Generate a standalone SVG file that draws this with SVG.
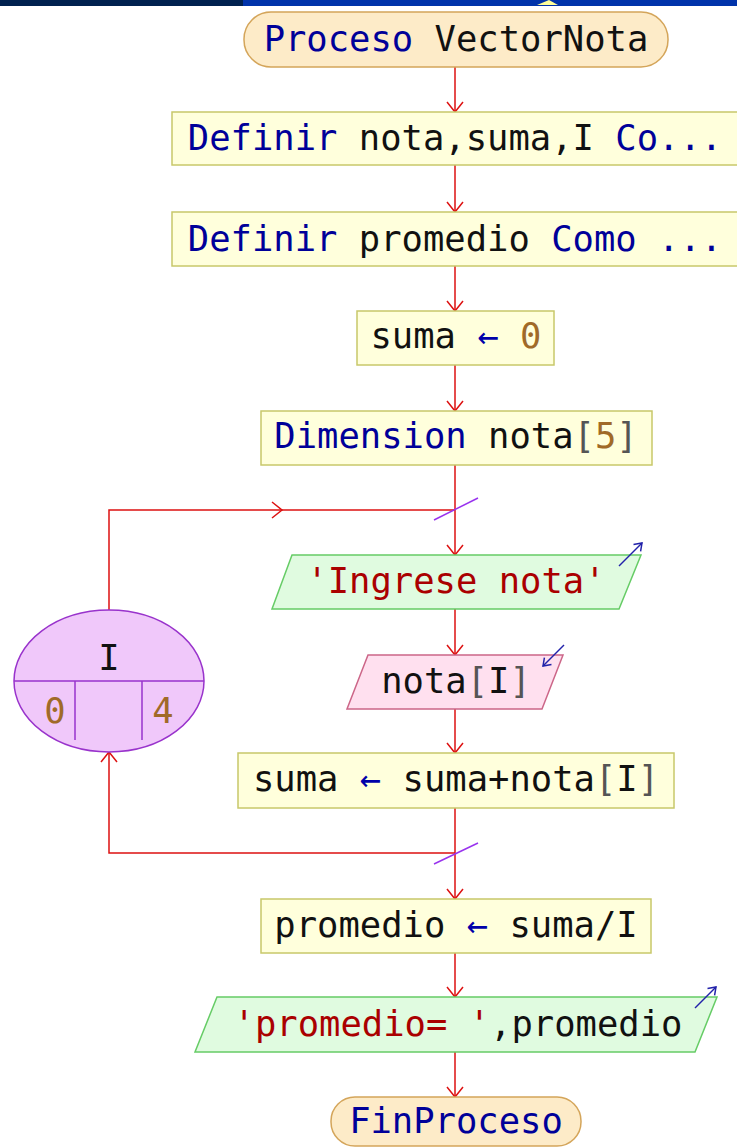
<svg xmlns="http://www.w3.org/2000/svg" width="737" height="1148" viewBox="0 0 737 1148">
<style>
text{font-family:"DejaVu Sans Mono","Liberation Mono",monospace;font-size:35.5px;text-anchor:middle}
.kw{fill:#000099}.id{fill:#111}.num{fill:#a06a28}.str{fill:#aa0000}.br{fill:#555}.op{fill:#0000aa}
.term{fill:#fdebc8;stroke:#d4a55a;stroke-width:1.5}
.proc{fill:#ffffdc;stroke:#c8c86a;stroke-width:1.5}
.out{fill:#e0fbe0;stroke:#66cc66;stroke-width:1.5}
.in{fill:#ffe0ef;stroke:#cc6688;stroke-width:1.5}
.loop{fill:#f0c8fa;stroke:#9933cc;stroke-width:1.5}
.flow{fill:none;stroke:#dd1111;stroke-width:1.5}
.slash{stroke:#9933ee;stroke-width:1.5}
.io{fill:none;stroke:#2222aa;stroke-width:1.5}
</style>
<defs>
<marker id="ah" markerUnits="userSpaceOnUse" markerWidth="24" markerHeight="24" refX="0" refY="0" viewBox="-12 -12 24 24" orient="auto" overflow="visible">
<path d="M-10,-8 L0,0 L-10,8" fill="none" stroke="#dd1111" stroke-width="1.5"/>
</marker>
<marker id="bh" markerUnits="userSpaceOnUse" markerWidth="16" markerHeight="16" refX="0" refY="0" viewBox="-8 -8 16 16" orient="auto" overflow="visible">
<path d="M-7,-5 L0,0 L-7,5" fill="none" stroke="#2222aa" stroke-width="1.5"/>
</marker>
</defs>
<rect width="737" height="1148" fill="#fff"/>
<g id="topbar">
<rect x="0" y="0" width="243" height="6" fill="#00214f"/>
<rect x="243" y="0" width="494" height="6" fill="#0033aa"/>
<polygon points="549,0 537,5 558,5" fill="#ffff99"/>
</g>
<g id="connectors">
<path class="flow" d="M455,67 V112" marker-end="url(#ah)"/>
<path class="flow" d="M455,165 V212" marker-end="url(#ah)"/>
<path class="flow" d="M455,266 V311" marker-end="url(#ah)"/>
<path class="flow" d="M455,365 V411" marker-end="url(#ah)"/>
<path class="flow" d="M455,465 V555" marker-end="url(#ah)"/>
<path class="flow" d="M109,610 V510 H282" marker-end="url(#ah)"/>
<path class="flow" d="M282,510 H455"/>
<line class="slash" x1="434" y1="520" x2="478" y2="498"/>
<path class="flow" d="M455,609 V655" marker-end="url(#ah)"/>
<path class="flow" d="M455,709 V753" marker-end="url(#ah)"/>
<path class="flow" d="M455,808 V899" marker-end="url(#ah)"/>
<path class="flow" d="M455,853 H109 V752" marker-end="url(#ah)"/>
<line class="slash" x1="434" y1="864" x2="478" y2="843"/>
<path class="flow" d="M455,953 V997" marker-end="url(#ah)"/>
<path class="flow" d="M455,1052 V1097" marker-end="url(#ah)"/>
</g>
<g id="start">
<rect class="term" x="244" y="12" width="424" height="55" rx="27"/>
<text x="456" y="51"><tspan class="kw">Proceso</tspan><tspan class="id"> VectorNota</tspan></text>
</g>
<g id="def1">
<rect class="proc" x="172" y="112" width="570" height="53"/>
<text x="455" y="150"><tspan class="kw">Definir</tspan><tspan class="id"> nota,suma,I </tspan><tspan class="kw">Co...</tspan></text>
</g>
<g id="def2">
<rect class="proc" x="172" y="212" width="570" height="54"/>
<text x="455" y="251"><tspan class="kw">Definir</tspan><tspan class="id"> promedio </tspan><tspan class="kw">Como ...</tspan></text>
</g>
<g id="assign1">
<rect class="proc" x="357" y="311" width="197" height="54"/>
<text x="456" y="348"><tspan class="id">suma </tspan><tspan class="op">←</tspan><tspan class="num"> 0</tspan></text>
</g>
<g id="dim">
<rect class="proc" x="261" y="411" width="391" height="54"/>
<text x="456" y="448"><tspan class="kw">Dimension</tspan><tspan class="id"> nota</tspan><tspan class="br">[</tspan><tspan class="num">5</tspan><tspan class="br">]</tspan></text>
</g>
<g id="for">
<ellipse class="loop" cx="109" cy="681" rx="95" ry="71"/>
<line class="loop" x1="14" y1="681" x2="204" y2="681"/>
<line class="loop" x1="75" y1="681" x2="75" y2="740"/>
<line class="loop" x1="142" y1="681" x2="142" y2="740"/>
<text x="109" y="670" class="id">I</text>
<text x="55" y="723" class="num">0</text>
<text x="163" y="723" class="num">4</text>
</g>
<g id="out1">
<polygon class="out" points="292,555 641,555 619,609 272,609"/>
<text x="456" y="593" class="str">'Ingrese nota'</text>
<line class="io" x1="619" y1="566" x2="642" y2="543" marker-end="url(#bh)"/>
</g>
<g id="in1">
<polygon class="in" points="368,655 563,655 542,709 347,709"/>
<text x="456" y="693"><tspan class="id">nota</tspan><tspan class="br">[</tspan><tspan class="id">I</tspan><tspan class="br">]</tspan></text>
<line class="io" x1="564" y1="645" x2="543" y2="666" marker-end="url(#bh)"/>
</g>
<g id="assign2">
<rect class="proc" x="238" y="753" width="436" height="55"/>
<text x="456" y="791"><tspan class="id">suma </tspan><tspan class="op">←</tspan><tspan class="id"> suma+nota</tspan><tspan class="br">[</tspan><tspan class="id">I</tspan><tspan class="br">]</tspan></text>
</g>
<g id="assign3">
<rect class="proc" x="261" y="899" width="390" height="54"/>
<text x="456" y="937"><tspan class="id">promedio </tspan><tspan class="op">←</tspan><tspan class="id"> suma/I</tspan></text>
</g>
<g id="out2">
<polygon class="out" points="217,997 717,997 695,1052 195,1052"/>
<text x="458" y="1036"><tspan class="str">'promedio= '</tspan><tspan class="id">,promedio</tspan></text>
<line class="io" x1="695" y1="1008" x2="716" y2="987" marker-end="url(#bh)"/>
</g>
<g id="end">
<rect class="term" x="331" y="1097" width="250" height="49" rx="24"/>
<text x="456" y="1133" class="kw">FinProceso</text>
</g>
</svg>
